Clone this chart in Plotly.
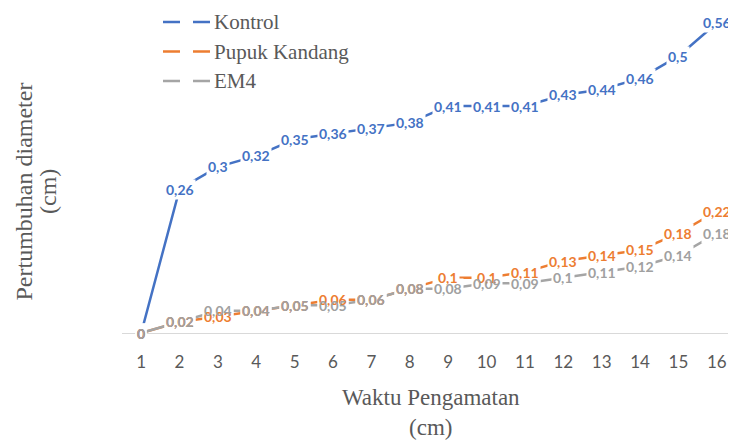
import plotly.graph_objects as go

waktu = list(range(1, 17))
kontrol = [0, 0.26, 0.3, 0.32, 0.35, 0.36, 0.37, 0.38, 0.41, 0.41, 0.41, 0.43, 0.44, 0.46, 0.5, 0.56]
pupuk = [0, 0.02, 0.03, 0.04, 0.05, 0.06, 0.06, 0.08, 0.1, 0.1, 0.11, 0.13, 0.14, 0.15, 0.18, 0.22]
em4 = [0, 0.02, 0.04, 0.04, 0.05, 0.05, 0.06, 0.08, 0.08, 0.09, 0.09, 0.1, 0.11, 0.12, 0.14, 0.18]
series_names = ["Kontrol", "Pupuk Kandang", "EM4"]
tick_labels = [str(i) for i in waktu]

colors = ["#4472C4", "#ED7D31", "#A5A5A5"]
label_colors = ["#4472C4", "#ED7D31", "#A0A0A0"]
all_series = [kontrol, pupuk, em4]

# page has an 8px body margin, so the figure is 728x434
W, H = 728, 434
L, R, T, B = 114, 0, 0, 109
PW, PH = W - L - R, H - T - B

def px_x(fx):
    return (fx - L) / PW

def px_y(fy):
    return (PH + T - fy) / PH

fig = go.Figure()
for name, vals, c in zip(series_names, all_series, colors):
    fig.add_trace(go.Scatter(x=waktu, y=vals, mode="lines", name=name,
                             line=dict(color=c, width=2.5), showlegend=False,
                             hoverinfo="skip"))

def fmt(v):
    return f"{v:g}".replace(".", ",")

label_font = "Lato"
annotations = []
# white boxes first (break the lines under labels)
for vals in all_series:
    for x, v in zip(waktu, vals):
        annotations.append(dict(x=x, y=v, xref="x", yref="y", text="<b>" + fmt(v) + "</b>",
                                showarrow=False, bgcolor="white", borderpad=1,
                                font=dict(family=label_font, size=14, color="rgba(0,0,0,0)")))
# label texts, EM4 last
for vals, c in zip(all_series, label_colors):
    for x, v in zip(waktu, vals):
        annotations.append(dict(x=x, y=v, xref="x", yref="y", text="<b>" + fmt(v) + "</b>",
                                showarrow=False,
                                font=dict(family=label_font, size=14, color=c)))

# y axis title (two lines)
title_font = dict(family="Liberation Serif", size=24, color="#595959")
for txt, fx in [("Pertumbuhan diameter", 15.5), ("(cm)", 40)]:
    annotations.append(dict(x=px_x(fx), y=px_y(184), xref="paper", yref="paper",
                            text=txt, textangle=-90, showarrow=False, borderpad=0,
                            xanchor="center", yanchor="middle", font=title_font))
# x axis title
annotations.append(dict(x=px_x(423), y=px_y(404.5), xref="paper", yref="paper",
                        text="Waktu Pengamatan<br>(cm)", showarrow=False,
                        xanchor="center", yanchor="middle",
                        font=dict(family="Liberation Serif", size=23, color="#595959")))

# legend (drawn by hand so it can sit where the original has it)
shapes = []
legend_rows = [14, 43.5, 73]
for name, c, fy in zip(series_names, colors, legend_rows):
    shapes.append(dict(type="line", xref="paper", yref="paper",
                       x0=px_x(155), x1=px_x(204), y0=px_y(fy), y1=px_y(fy),
                       line=dict(color=c, width=2.5, dash="17px,13px")))
    annotations.append(dict(x=px_x(205), y=px_y(fy), xref="paper", yref="paper",
                            text=name, showarrow=False, xanchor="left", yanchor="middle",
                            borderpad=0,
                            font=dict(family="Liberation Serif", size=21, color="#595959")))

fig.update_layout(
    width=W, height=H,
    margin=dict(l=L, r=R, t=T, b=B),
    paper_bgcolor="white", plot_bgcolor="white",
    showlegend=False,
    annotations=annotations,
    shapes=shapes,
    xaxis=dict(range=[0.5, 16.5], tickmode="array", tickvals=waktu, ticktext=tick_labels,
               showgrid=False, zeroline=False, showline=True, linecolor="#D9D9D9",
               linewidth=1, ticks="", ticklabelstandoff=14,
               tickfont=dict(family="Lato", size=17, color="#595959"),
               fixedrange=True),
    yaxis=dict(range=[0, PH / 553.6], visible=False, fixedrange=True),
)

fig.write_html("out.html")
